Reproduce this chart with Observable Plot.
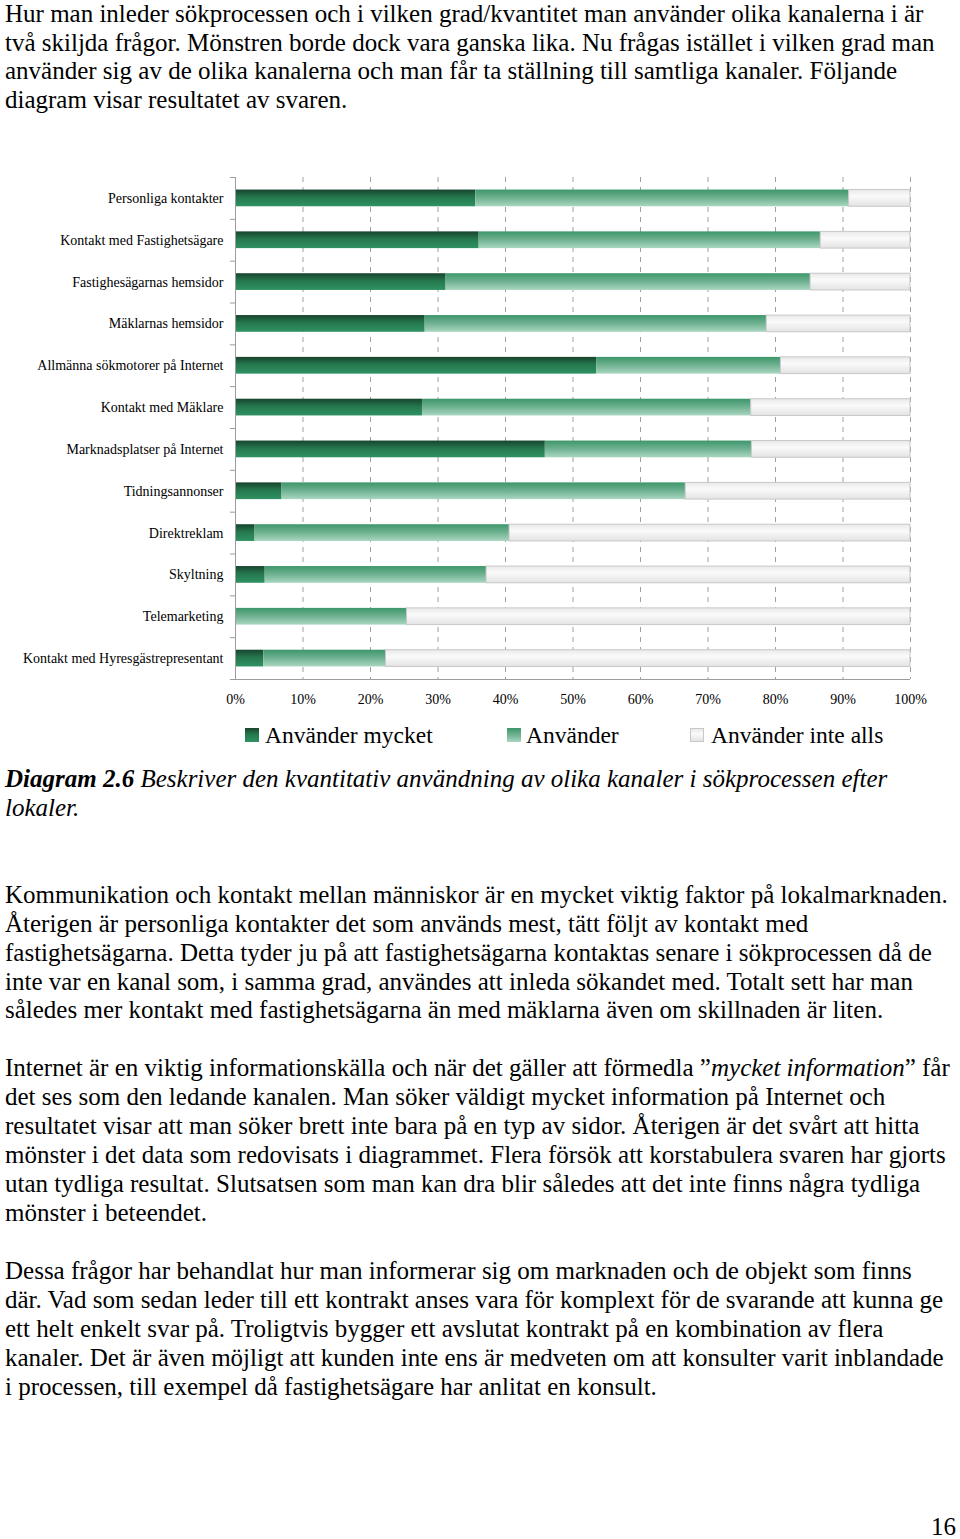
<!DOCTYPE html>
<html><head><meta charset="utf-8">
<script src="https://cdn.jsdelivr.net/npm/d3@7"></script>
<script src="https://cdn.jsdelivr.net/npm/@observablehq/plot@0.6"></script>
<style>
html,body{margin:0;padding:0;background:#fff;}
#page{position:relative;width:960px;height:1539px;overflow:hidden;font-family:"Liberation Serif","Times New Roman",serif;color:#000;}
.ln{position:absolute;left:5px;white-space:nowrap;height:30px;line-height:30px;font-size:25px;}
#chart{position:absolute;left:0;top:170px;}
.sw{position:absolute;width:14px;height:14px;box-sizing:border-box;}
.lt{position:absolute;font-size:23.5px;line-height:28px;height:28px;white-space:nowrap;}
</style></head>
<body><div id="page"><div id="chart"></div></div>
<script>
const categories = ["Personliga kontakter","Kontakt med Fastighetsägare","Fastighesägarnas hemsidor","Mäklarnas hemsidor","Allmänna sökmotorer på Internet","Kontakt med Mäklare","Marknadsplatser på Internet","Tidningsannonser","Direktreklam","Skyltning","Telemarketing","Kontakt med Hyresgästrepresentant"];
const seriesNames = ["Använder mycket","Använder","Använder inte alls"];
const mycket   = [35.6, 36.1, 31.2, 28.1, 53.5, 27.7, 45.9, 6.9, 2.9, 4.4, 0, 4.2];
const anvander = [55.3, 50.6, 54.0, 50.6, 27.3, 48.7, 30.6, 59.8, 37.7, 32.8, 25.4, 18.1];
const inteAlls = [9.1, 13.3, 14.8, 21.3, 19.2, 23.6, 23.5, 33.3, 59.4, 62.8, 74.6, 77.7];
const xTicks = [0,10,20,30,40,50,60,70,80,90,100];

const seriesValues = [mycket, anvander, inteAlls];
const data = seriesNames.flatMap((s, si) => categories.map((c, i) => ({category: c, series: s, value: seriesValues[si][i]})));

const H = 539, MT = 7, MB = 30;
const step = (H - MT - MB) / categories.length;
const axisGray = "#9c9c9c";

const plot = Plot.plot({
  width: 960, height: H, marginLeft: 235, marginRight: 50, marginTop: MT, marginBottom: MB,
  style: {fontFamily: "'Liberation Serif','Times New Roman',serif", fontSize: "14px", color: "#000", background: "transparent", overflow: "visible"},
  x: {domain: [0, 100]},
  y: {domain: categories, paddingInner: 0.6, paddingOuter: 0.3, round: false},
  color: {domain: seriesNames, range: ["url(#gMycket)", "url(#gAnv)", "url(#gInte)"]},
  marks: [
    Plot.gridX(xTicks.slice(1), {stroke: "#a0a0a0", strokeOpacity: 1, strokeDasharray: "5,5"}),
    Plot.barX(data, {x: "value", y: "category", fill: "series",
      stroke: d => d.series === seriesNames[2] ? "#c8c8c8" : "none", strokeWidth: 1}),
    Plot.ruleX([0], {stroke: axisGray}),
    Plot.ruleY(categories, {x1: -0.75, x2: 0, dy: -step / 2, stroke: axisGray}),
    Plot.ruleY(categories.slice(-1), {x1: -0.75, x2: 100, dy: step / 2, stroke: axisGray}),
    Plot.axisY({tickSize: 0, tickPadding: 12, label: null}),
    Plot.axisX(xTicks, {tickSize: 0, tickPadding: 15, tickFormat: d => d + "%", label: null})
  ]
});

const svg = d3.select(plot);
const defs = svg.insert("defs", ":first-child");
function grad(id, stops) {
  const g = defs.append("linearGradient").attr("id", id).attr("x1", 0).attr("y1", 0).attr("x2", 0).attr("y2", 1);
  stops.forEach(([o, c]) => g.append("stop").attr("offset", o).attr("stop-color", c));
}
const gradMycket = [["0%", "#17442e"], ["45%", "#25774d"], ["100%", "#2f9262"]];
const gradAnv = [["0%", "#3d966a"], ["50%", "#70b292"], ["100%", "#a9d6c0"]];
const gradInte = [["0%", "#e9e9e9"], ["40%", "#fafafa"], ["100%", "#e3e3e3"]];
grad("gMycket", gradMycket);
grad("gAnv", gradAnv);
grad("gInte", gradInte);
document.getElementById("chart").appendChild(plot);

const page = document.getElementById("page");
function cssGrad(stops) { return "linear-gradient(to bottom," + stops.map(([o, c]) => c + " " + o).join(",") + ")"; }

// legend
const legendPos = [[245, 265], [507, 526], [690, 711]];
const legendStops = [gradMycket, gradAnv, gradInte];
seriesNames.forEach((s, i) => {
  const sw = document.createElement("div");
  sw.className = "sw";
  sw.style.left = legendPos[i][0] + "px";
  sw.style.top = "728px";
  sw.style.background = cssGrad(legendStops[i]);
  if (i === 2) sw.style.border = "1px solid #c8c8c8";
  page.appendChild(sw);
  const t = document.createElement("div");
  t.className = "lt";
  t.style.left = legendPos[i][1] + "px";
  t.style.top = (735 - 14) + "px";
  t.textContent = s;
  page.appendChild(t);
});

// text lines: [centerY, html, italic]
const lines = [
  [14, "Hur man inleder sökprocessen och i vilken grad/kvantitet man använder olika kanalerna i är"],
  [43, "två skiljda frågor. Mönstren borde dock vara ganska lika. Nu frågas istället i vilken grad man"],
  [71, "använder sig av de olika kanalerna och man får ta ställning till samtliga kanaler. Följande"],
  [100, "diagram visar resultatet av svaren."],
  [779, "<b>Diagram 2.6</b> Beskriver den kvantitativ användning av olika kanaler i sökprocessen efter", true],
  [808, "lokaler.", true],
  [895, "Kommunikation och kontakt mellan människor är en mycket viktig faktor på lokalmarknaden."],
  [924, "Återigen är personliga kontakter det som används mest, tätt följt av kontakt med"],
  [953, "fastighetsägarna. Detta tyder ju på att fastighetsägarna kontaktas senare i sökprocessen då de"],
  [982, "inte var en kanal som, i samma grad, användes att inleda sökandet med. Totalt sett har man"],
  [1010, "således mer kontakt med fastighetsägarna än med mäklarna även om skillnaden är liten."],
  [1068, "Internet är en viktig informationskälla och när det gäller att förmedla ”<i>mycket information</i>” får"],
  [1097, "det ses som den ledande kanalen. Man söker väldigt mycket information på Internet och"],
  [1126, "resultatet visar att man söker brett inte bara på en typ av sidor. Återigen är det svårt att hitta"],
  [1155, "mönster i det data som redovisats i diagrammet. Flera försök att korstabulera svaren har gjorts"],
  [1184, "utan tydliga resultat. Slutsatsen som man kan dra blir således att det inte finns några tydliga"],
  [1213, "mönster i beteendet."],
  [1271, "Dessa frågor har behandlat hur man informerar sig om marknaden och de objekt som finns"],
  [1300, "där. Vad som sedan leder till ett kontrakt anses vara för komplext för de svarande att kunna ge"],
  [1329, "ett helt enkelt svar på. Troligtvis bygger ett avslutat kontrakt på en kombination av flera"],
  [1358, "kanaler. Det är även möjligt att kunden inte ens är medveten om att konsulter varit inblandade"],
  [1387, "i processen, till exempel då fastighetsägare har anlitat en konsult."]
];
lines.forEach(([y, html, it]) => {
  const d = document.createElement("div");
  d.className = "ln";
  d.style.top = (y - 15) + "px";
  if (it) d.style.fontStyle = "italic";
  d.innerHTML = html;
  page.appendChild(d);
});
const pn = document.createElement("div");
pn.className = "ln";
pn.style.left = "auto";
pn.style.right = "4px";
pn.style.height = "24px";
pn.style.lineHeight = "24px";
pn.style.top = (1527 - 12) + "px";
pn.textContent = "16";
page.appendChild(pn);
</script>
</body></html>
